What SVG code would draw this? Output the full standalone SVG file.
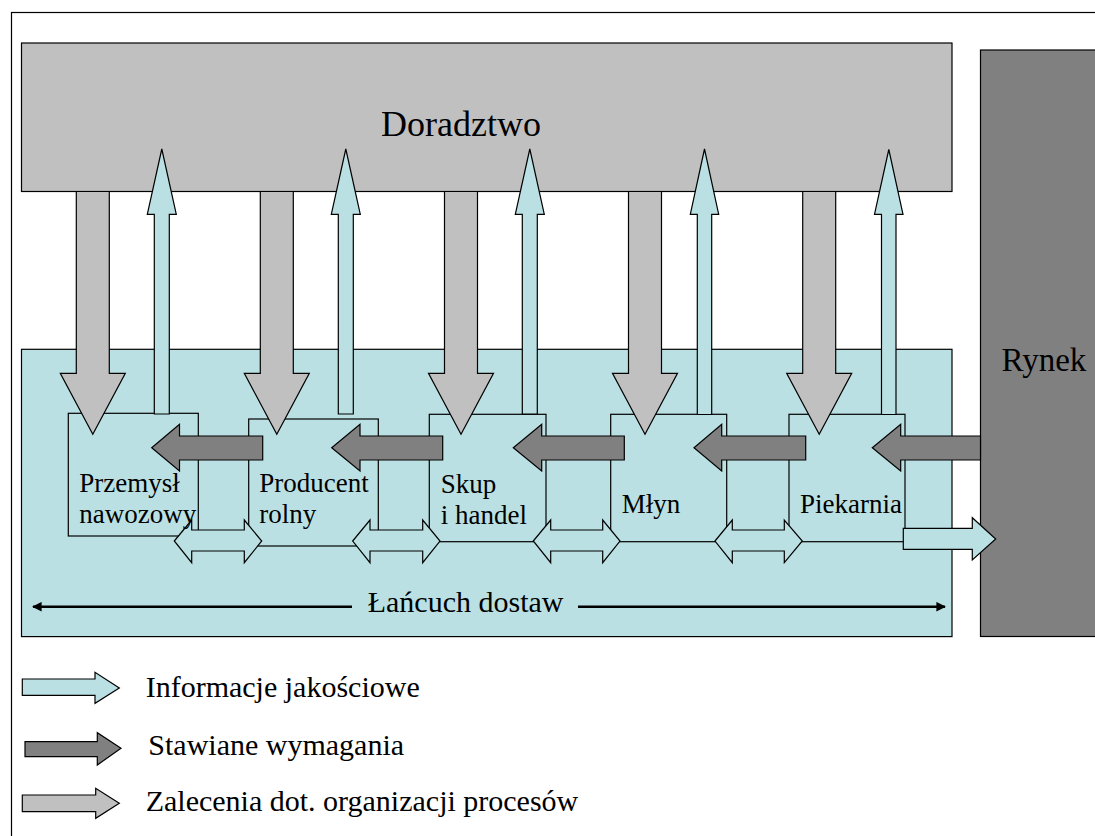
<svg xmlns="http://www.w3.org/2000/svg" width="1095" height="836" viewBox="0 0 1095 836">
<style>
.ln{stroke:#000;stroke-width:1.2;stroke-linejoin:miter}
.lb{fill:#BBE0E3}
.lg{fill:#C0C0C0}
.dg{fill:#808080}
.t{font-family:'Liberation Serif','Times New Roman',serif;fill:#000}
.nl{font-size:27px}
.lt{font-size:30px}
</style>
<defs>
<marker id="ah" viewBox="0 0 10 10" refX="9" refY="5" markerWidth="4" markerHeight="4" orient="auto-start-reverse">
<path d="M0,0 L10,5 L0,10 Z" fill="#000"/>
</marker>
</defs>
<rect x="11.5" y="12.5" width="1100" height="840" fill="#fff" stroke="#000" stroke-width="1.2"/>
<g id="doradztwo">
<rect class="lg ln" x="21.5" y="43" width="930.5" height="148.5"/>
<text class="t" x="381" y="135.7" font-size="36">Doradztwo</text>
</g>
<g id="rynek">
<rect class="dg ln" x="980.5" y="50" width="130" height="586.5"/>
<text class="t" x="1001.5" y="370.7" font-size="33">Rynek</text>
</g>
<g id="lancuch">
<rect class="lb ln" x="21.5" y="349.3" width="930.5" height="287.3"/>
</g>
<g id="przemysl"><rect class="lb ln" x="68.3" y="413.3" width="130" height="122.7"/></g>
<g id="producent"><rect class="lb ln" x="248.7" y="419" width="129.6" height="127"/></g>
<g id="skup"><rect class="lb ln" x="429.3" y="414.3" width="116.7" height="127.4"/></g>
<g id="mlyn"><rect class="lb ln" x="610.7" y="414.3" width="116" height="127.4"/></g>
<g id="piekarnia"><rect class="lb ln" x="789" y="414.3" width="116" height="127.4"/></g>
<g id="connectors">
<polygon class="lg ln" points="76.3,191.5 109.3,191.5 109.3,373.3 125.3,373.3 92.8,434.3 60.3,373.3 76.3,373.3"/>
<polygon class="lg ln" points="260.3,191.5 293.3,191.5 293.3,373.3 309.3,373.3 276.8,434.3 244.3,373.3 260.3,373.3"/>
<polygon class="lg ln" points="444.5,191.5 477.5,191.5 477.5,373.3 493.5,373.3 461,434.3 428.5,373.3 444.5,373.3"/>
<polygon class="lg ln" points="628.5,191.5 661.5,191.5 661.5,373.3 677.5,373.3 645,434.3 612.5,373.3 628.5,373.3"/>
<polygon class="lg ln" points="802.7,191.5 835.7,191.5 835.7,373.3 851.7,373.3 819.2,434.3 786.7,373.3 802.7,373.3"/>
<polygon class="lb ln" points="154.3,414 154.3,214.3 147.3,214.3 161.8,149 176.3,214.3 169.3,214.3 169.3,414"/>
<polygon class="lb ln" points="338.3,414 338.3,214.3 331.3,214.3 345.8,149 360.3,214.3 353.3,214.3 353.3,414"/>
<polygon class="lb ln" points="522.3,414 522.3,214.3 515.3,214.3 529.8,149 544.3,214.3 537.3,214.3 537.3,414"/>
<polygon class="lb ln" points="697.3,414.5 697.3,214.3 690.3,214.3 704.5,149 718.7,214.3 711.7,214.3 711.7,414.5"/>
<polygon class="lb ln" points="881.5,414.5 881.5,214.3 874.5,214.3 888.8,149.5 903,214.3 896,214.3 896,414.5"/>
<polygon class="dg ln" points="262.7,436 179.5,436 179.5,424.3 151.7,447.7 179.5,471 179.5,460 262.7,460"/>
<polygon class="dg ln" points="442.7,436 360,436 360,424.3 331.7,447.7 360,471 360,460 442.7,460"/>
<polygon class="dg ln" points="624.3,436 541.7,436 541.7,424.3 513.3,447.7 541.7,471 541.7,460 624.3,460"/>
<polygon class="dg ln" points="805.7,436 721.7,436 721.7,424.3 694,447.7 721.7,471 721.7,460 805.7,460"/>
<polygon class="dg ln" points="980.5,436 900.7,436 900.7,424.3 872.3,447.7 900.7,471 900.7,460 980.5,460"/>
<polygon class="lb ln" points="174.3,541 191.7,520 191.7,530 244.3,530 244.3,520 261.7,541 244.3,562.7 244.3,551 191.7,551 191.7,562.7"/>
<polygon class="lb ln" points="352.7,541 370,520 370,530 422.7,530 422.7,520 440,541 422.7,562.7 422.7,551 370,551 370,562.7"/>
<polygon class="lb ln" points="533.3,541 550.7,520 550.7,530 602.7,530 602.7,520 620,541 602.7,562.7 602.7,551 550.7,551 550.7,562.7"/>
<polygon class="lb ln" points="715,541 732.3,520 732.3,530 784.3,530 784.3,520 802.3,541 784.3,562.7 784.3,551 732.3,551 732.3,562.7"/>
<polygon class="lb ln" points="903.3,528.3 972.3,528.3 972.3,517.7 995.7,539 972.3,560 972.3,549.3 903.3,549.3"/>
<line x1="352" y1="606.7" x2="33" y2="606.7" stroke="#000" stroke-width="2.4" marker-end="url(#ah)"/>
<line x1="578" y1="606.7" x2="945" y2="606.7" stroke="#000" stroke-width="2.4" marker-end="url(#ah)"/>
</g>
<g id="labels">
<text class="t nl" x="79.3" y="491.7">Przemysł</text>
<text class="t nl" x="79.3" y="523.3">nawozowy</text>
<text class="t nl" x="259.3" y="491.7">Producent</text>
<text class="t nl" x="259.3" y="523.3">rolny</text>
<text class="t nl" x="440.7" y="492.7">Skup</text>
<text class="t nl" x="440.7" y="524.3">i handel</text>
<text class="t nl" x="621.7" y="513.3">Młyn</text>
<text class="t nl" x="800" y="513.3">Piekarnia</text>
<text class="t lt" x="367.7" y="611.7">Łańcuch dostaw</text>
</g>
<g id="legend">
<polygon class="lb ln" points="22.3,679 95,679 95,672.3 119.3,688 95,703.3 95,695.3 22.3,695.3"/>
<polygon class="dg ln" points="25,741.7 97.3,741.7 97.3,732.7 121,748.3 97.3,765 97.3,756.7 25,756.7"/>
<polygon class="lg ln" points="22.3,795 95.7,795 95.7,788.3 119.3,803.3 95.7,818.3 95.7,811.7 22.3,811.7"/>
<text class="t lt" x="145.7" y="696.7">Informacje jakościowe</text>
<text class="t lt" x="148.3" y="755">Stawiane wymagania</text>
<text class="t lt" x="145.7" y="810.7">Zalecenia dot. organizacji procesów</text>
</g>
</svg>
